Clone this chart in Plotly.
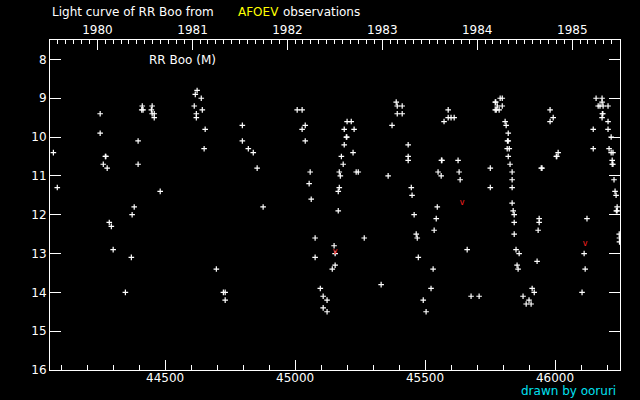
import datetime
import plotly.graph_objects as go

# Observations (JD - 2400000, visual magnitude)
jd = [44070, 44085, 44250, 44250, 44270, 44272, 44262, 44277, 44285, 44293,
      44300, 44347, 44370, 44373, 44381, 44396, 44396, 44412, 44410, 44415,
      44450, 44447, 44450, 44458, 44458, 44481, 44612, 44616, 44623, 44639,
      44643, 44620, 44620, 44654, 44650, 44697, 44724, 44731, 44731, 44797,
      44797, 44820, 44839, 44854, 44877, 45008, 45027, 45039, 45027, 45039,
      45058, 45054, 45062, 45077, 45077, 45097, 45108, 45123, 45108, 45123,
      45143, 45154, 45154, 45150, 45166, 45166, 45170, 45170, 45174, 45185,
      45178, 45189, 45197, 45199, 45189, 45200, 45216, 45227, 45223, 45235,
      45243, 45266, 45331, 45358, 45373, 45389, 45393, 45412, 45393, 45412,
      45435, 45435, 45435, 45447, 45450, 45458, 45466, 45470, 45474, 45493,
      45504, 45523, 45531, 45535, 45543, 45547, 45550, 45562, 45563, 45565,
      45573, 45589, 45589, 45600, 45612, 45627, 45631, 45635, 45662, 45677,
      45708, 45751, 45751, 45770, 45772, 45789, 45797, 45778, 45797, 45770,
      45774, 45785, 45808, 45812, 45820, 45817, 45820, 45816, 45824, 45820,
      45827, 45835, 45835, 45835, 45835, 45839, 45843, 45843, 45843, 45850,
      45862, 45854, 45858, 45877, 45889, 45908, 45900, 45912, 45920, 45931,
      45935, 45939, 45939, 45947, 45950, 45981, 45993, 45981, 46012, 46005,
      46007, 46104, 46112, 46116, 46123, 46147, 46147, 46158, 46181, 46181,
      46166, 46173, 46185, 46204, 46182, 46184, 46181, 46204, 46204, 46216,
      46208, 46216, 46223, 46220, 46220, 46223, 46227, 46231, 46235, 46239,
      46236, 46239, 46247, 46248, 46248]
mag = [10.4, 11.3, 9.4, 9.9, 10.5, 10.5, 10.7, 10.8, 12.2, 12.3,
       12.9, 14.0, 13.1, 12.0, 11.8, 10.7, 10.1, 9.2, 9.3, 9.3,
       9.2, 9.3, 9.4, 9.4, 9.5, 11.4, 9.2, 8.9, 8.8, 9.0,
       9.3, 9.4, 9.5, 9.8, 10.3, 13.4, 14.0, 14.0, 14.2, 9.7,
       10.1, 10.3, 10.4, 10.8, 11.8, 9.3, 9.3, 9.7, 9.8, 10.1,
       10.9, 11.2, 11.6, 12.6, 13.1, 13.9, 14.1, 14.2, 14.4, 14.5,
       13.4, 13.3, 13.0, 12.8, 11.9, 11.4, 11.3, 10.9, 11.0, 10.7,
       10.5, 10.2, 10.0, 10.0, 9.8, 9.6, 9.6, 9.8, 10.4, 10.9,
       10.9, 12.6, 13.8, 11.0, 9.7, 9.1, 9.2, 9.2, 9.4, 9.4,
       10.2, 10.5, 10.6, 11.3, 11.5, 12.0, 12.5, 12.6, 13.1, 14.2,
       14.5, 13.9, 13.4, 12.4, 12.1, 11.8, 10.9, 11.0, 10.6, 10.6,
       9.6, 9.3, 9.5, 9.5, 9.5, 10.6, 10.9, 11.1, 12.9, 14.1,
       14.1, 10.8, 11.3, 9.1, 9.1, 9.0, 9.0, 9.2, 9.2, 9.3,
       9.3, 9.3, 9.6, 9.7, 9.9, 10.1, 10.1, 10.3, 10.3, 10.5,
       10.7, 10.9, 11.1, 11.3, 11.7, 11.9, 12.0, 12.2, 12.5, 12.9,
       13.0, 13.3, 13.4, 14.1, 14.3, 14.3, 14.2, 13.9, 14.0, 13.2,
       12.4, 12.1, 12.2, 10.8, 10.8, 9.3, 9.5, 9.6, 10.4, 10.5,
       10.5, 14.0, 13.0, 13.4, 12.1, 10.3, 9.8, 9.0, 9.0, 9.1,
       9.2, 9.2, 9.2, 9.2, 9.4, 9.4, 9.5, 9.6, 9.8, 10.0,
       10.3, 10.4, 10.4, 10.6, 10.7, 10.7, 11.1, 11.4, 11.5, 11.8,
       11.9, 11.9, 12.5, 12.6, 12.7]

# Fainter-than observations (red)
jd_limit = [45154, 45643, 46116]
mag_limit = [12.95, 11.7, 12.75]

year_labels = ["1980", "1981", "1982", "1983", "1984", "1985"]
x_tick_vals = [44500, 45000, 45500, 46000]
y_tick_vals = [8, 9, 10, 11, 12, 13, 14, 15, 16]

X_RANGE = [44057, 46250]
Y_RANGE = [16, 7.5]


def jd_of(date):
    # JD - 2400000 at 0h UT
    return (date - datetime.date(1858, 11, 17)).days + 0.5


year_vals = [jd_of(datetime.date(int(y), 1, 1)) for y in year_labels]
month_vals = []
for yy in range(1979, 1986):
    for mm in range(1, 13):
        v = jd_of(datetime.date(yy, mm, 1))
        if X_RANGE[0] <= v <= X_RANGE[1]:
            month_vals.append(v)

FONT = "DejaVu Sans"

fig = go.Figure()
fig.add_trace(go.Scatter(
    x=jd, y=mag, mode="markers",
    marker=dict(symbol="cross-thin-open", size=4, color="white",
                line=dict(color="white", width=1.2)),
    hoverinfo="skip", showlegend=False))
fig.add_trace(go.Scatter(
    x=jd_limit, y=mag_limit, mode="text", text=["v"] * len(jd_limit),
    textposition="middle center",
    textfont=dict(family=FONT, size=8, color="#ff2020"),
    hoverinfo="skip", showlegend=False))
fig.add_trace(go.Scatter(x=[X_RANGE[0]], y=[Y_RANGE[0]], xaxis="x2",
                         mode="markers", marker=dict(opacity=0),
                         hoverinfo="skip", showlegend=False))

fig.update_layout(
    width=640, height=400,
    margin=dict(l=50, r=20, t=40, b=30, pad=0),
    paper_bgcolor="black", plot_bgcolor="black",
    font=dict(family=FONT, size=12, color="white"),
    xaxis=dict(range=X_RANGE, showgrid=False, zeroline=False,
               showline=True, linecolor="white", linewidth=1,
               ticks="inside", ticklen=10, tickcolor="white", tickwidth=1,
               tickmode="array", tickvals=x_tick_vals, tickformat="d",
               ticklabelstandoff=-3,
               tickfont=dict(family=FONT, size=12, color="white"),
               minor=dict(ticks="inside", ticklen=5, dtick=100, tick0=44000,
                          tickcolor="white", tickwidth=1)),
    xaxis2=dict(range=X_RANGE, overlaying="x", side="top", anchor="y",
                showgrid=False, zeroline=False,
                showline=True, linecolor="white", linewidth=1,
                ticks="inside", ticklen=10, tickcolor="white", tickwidth=1,
                tickmode="array", tickvals=year_vals, ticktext=year_labels,
                tickfont=dict(family=FONT, size=12, color="white"),
                minor=dict(ticks="inside", ticklen=4, tickmode="array",
                           tickvals=month_vals, tickcolor="white",
                           tickwidth=1)),
    yaxis=dict(range=Y_RANGE, showgrid=False, zeroline=False,
               showline=True, linecolor="white", linewidth=1, mirror="ticks",
               ticks="inside", ticklen=11, tickcolor="white", tickwidth=1,
               tickmode="array", tickvals=y_tick_vals,
               tickfont=dict(family=FONT, size=12, color="white")),
)

TY = (370 - 12) / 330
fig.add_annotation(text="Light curve of RR Boo from", xref="paper", yref="paper",
                   x=0, y=TY, xanchor="left", yanchor="middle",
                   showarrow=False, font=dict(family=FONT, size=12, color="white"))
fig.add_annotation(text="AFOEV", xref="paper", yref="paper",
                   x=(236 - 50) / 570, y=TY, xanchor="left",
                   yanchor="middle", showarrow=False,
                   font=dict(family=FONT, size=12, color="#ffff00"))
fig.add_annotation(text="observations", xref="paper", yref="paper",
                   x=(281 - 50) / 570, y=TY, xanchor="left",
                   yanchor="middle", showarrow=False,
                   font=dict(family=FONT, size=12, color="white"))
fig.add_annotation(text="RR Boo (M)", xref="paper", yref="paper",
                   x=(182.5 - 50) / 570, y=(370 - 60) / 330, xanchor="center",
                   yanchor="middle", showarrow=False,
                   font=dict(family=FONT, size=12, color="white"))
fig.add_annotation(text="drawn by ooruri", xref="paper", yref="paper",
                   x=(618 - 50) / 570, y=(370 - 391) / 330, xanchor="right",
                   yanchor="middle", showarrow=False,
                   font=dict(family=FONT, size=12, color="#00e0f0"))

fig.write_html(
    "out.html",
    config={"displayModeBar": False},
    post_script="document.body.style.margin='0';document.body.style.background='black';",
)
